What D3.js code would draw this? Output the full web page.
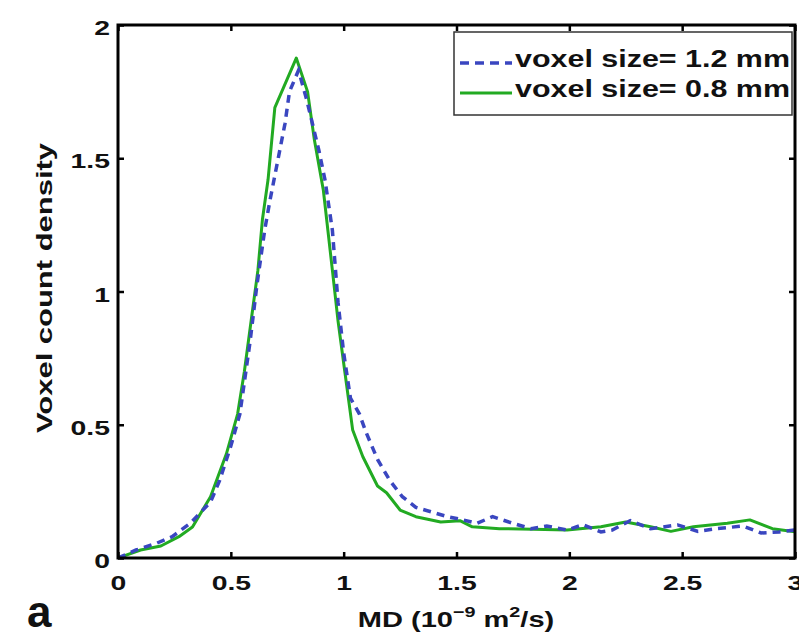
<!DOCTYPE html>
<html>
<head>
<meta charset="utf-8">
<script src="https://cdn.jsdelivr.net/npm/d3@7"></script>
<style>
  html, body { margin: 0; padding: 0; background: #fff; }
  svg { display: block; }
  text { font-family: "Liberation Sans", Arial, Helvetica, sans-serif; }
</style>
</head>
<body>
<svg id="chart" width="799" height="636"></svg>
<script>
// MD values (10^-9 m^2/s) and voxel count density
const mdCoarse = [0, 0.08, 0.17, 0.24, 0.32, 0.41, 0.45, 0.50, 0.54, 0.585, 0.615, 0.65, 0.673, 0.71, 0.74, 0.76, 0.80,
  0.836, 0.89, 0.917, 0.95, 0.975, 1.0, 1.03, 1.07, 1.10, 1.15, 1.205, 1.26, 1.32, 1.40, 1.46, 1.52, 1.59, 1.66,
  1.75, 1.83, 1.90, 1.99, 2.06, 2.14, 2.19, 2.27, 2.36, 2.48, 2.57, 2.65, 2.77, 2.85, 2.93, 3.0];
const densCoarse = [0, 0.03, 0.055, 0.08, 0.13, 0.21, 0.29, 0.42, 0.54, 0.81, 1.02, 1.23, 1.34, 1.50, 1.63, 1.75, 1.83,
  1.72, 1.53, 1.42, 1.23, 0.96, 0.77, 0.60, 0.54, 0.47, 0.37, 0.29, 0.23, 0.19, 0.17, 0.155, 0.145, 0.13, 0.155,
  0.13, 0.11, 0.12, 0.105, 0.125, 0.098, 0.105, 0.14, 0.11, 0.124, 0.10, 0.11, 0.12, 0.094, 0.098, 0.105];

const mdFine = [0, 0.1, 0.19, 0.27, 0.33, 0.41, 0.48, 0.53, 0.56, 0.59, 0.62, 0.64, 0.665, 0.695, 0.79, 0.84, 0.87,
  0.91, 0.95, 0.975, 1.005, 1.04, 1.085, 1.15, 1.19, 1.25, 1.32, 1.43, 1.515, 1.57, 1.69, 1.84, 1.99, 2.14, 2.25,
  2.36, 2.45, 2.55, 2.70, 2.80, 2.90, 3.0];
const densFine = [0, 0.03, 0.045, 0.08, 0.116, 0.23, 0.39, 0.54, 0.70, 0.89, 1.08, 1.27, 1.42, 1.69, 1.876, 1.75, 1.57,
  1.38, 1.08, 0.89, 0.70, 0.48, 0.38, 0.27, 0.245, 0.18, 0.155, 0.135, 0.14, 0.117, 0.11, 0.108, 0.105, 0.117, 0.135,
  0.117, 0.10, 0.117, 0.13, 0.143, 0.11, 0.098];

const xTicks = [0, 0.5, 1, 1.5, 2, 2.5, 3];
const xTickLabels = ["0", "0.5", "1", "1.5", "2", "2.5", "3"];
const yTicks = [0, 0.5, 1, 1.5, 2];
const yTickLabels = ["0", "0.5", "1", "1.5", "2"];
const legendLabels = ["voxel size= 1.2 mm", "voxel size= 0.8 mm"];

const svg = d3.select("#chart");
const plotL = 118, plotR = 795, plotT = 25, plotB = 558;
const stretch = 1.35; // the figure's fonts are much wider than Arial

const x = d3.scaleLinear().domain([0, 3]).range([plotL, plotR]);
const y = d3.scaleLinear().domain([0, 2]).range([plotB, plotT]);

svg.append("rect").attr("width", 799).attr("height", 636).attr("fill", "#fff");

svg.append("clipPath").attr("id", "plotClip")
  .append("rect").attr("x", plotL).attr("y", plotT).attr("width", plotR - plotL).attr("height", plotB - plotT);

const line = d3.line().x(d => x(d[0])).y(d => y(d[1]));

const plot = svg.append("g").attr("clip-path", "url(#plotClip)");

plot.append("path")
  .datum(d3.zip(mdFine, densFine))
  .attr("d", line)
  .attr("fill", "none")
  .attr("stroke", "#22aa22")
  .attr("stroke-width", 3)
  .attr("stroke-linejoin", "round");

plot.append("path")
  .datum(d3.zip(mdCoarse, densCoarse))
  .attr("d", line)
  .attr("fill", "none")
  .attr("stroke", "#3a46c0")
  .attr("stroke-width", 3.5)
  .attr("stroke-dasharray", "8,6");

// axes, ticks pointing inwards like matlab
const xAxis = svg.append("g").attr("transform", `translate(0,${plotB})`)
  .call(d3.axisBottom(x).tickValues(xTicks).tickFormat((d, i) => xTickLabels[i]).tickSize(-6).tickPadding(17));
const yAxis = svg.append("g").attr("transform", `translate(${plotL},0)`)
  .call(d3.axisLeft(y).tickValues(yTicks).tickFormat((d, i) => yTickLabels[i]).tickSize(-6).tickPadding(8));
svg.append("g").attr("transform", `translate(0,${plotT})`)
  .call(d3.axisTop(x).tickValues(xTicks).tickFormat("").tickSize(-6));
svg.append("g").attr("transform", `translate(${plotR},0)`)
  .call(d3.axisRight(y).tickValues(yTicks).tickFormat("").tickSize(-6));

svg.selectAll(".domain").remove();
svg.selectAll(".tick line").attr("stroke", "#000").attr("stroke-width", 2.5);

[xAxis, yAxis].forEach(g => g.selectAll("text")
  .attr("font-size", 21).attr("font-weight", "bold").attr("fill", "#111")
  .attr("font-family", "'Liberation Sans', Arial, sans-serif"));
xAxis.selectAll("text").attr("transform", `scale(${stretch},1)`);
yAxis.selectAll("text").attr("transform", `scale(${stretch},1)`)
  .attr("x", -8 / stretch).attr("y", 3);

svg.append("rect")
  .attr("x", plotL).attr("y", plotT).attr("width", plotR - plotL).attr("height", plotB - plotT)
  .attr("fill", "none").attr("stroke", "#000").attr("stroke-width", 3);

// legend
const lg = svg.append("g");
lg.append("rect").attr("x", 454).attr("y", 32).attr("width", 338).attr("height", 83)
  .attr("fill", "#fff").attr("stroke", "#333").attr("stroke-width", 1.5);
const legendStyles = [
  { color: "#3a46c0", dash: "9,6", width: 3.5 },
  { color: "#22aa22", dash: null, width: 3 }
];
legendLabels.forEach((lab, i) => {
  const yy = 63 + i * 30;
  lg.append("line").attr("x1", 460).attr("x2", 512).attr("y1", yy).attr("y2", yy)
    .attr("stroke", legendStyles[i].color).attr("stroke-width", legendStyles[i].width)
    .attr("stroke-dasharray", legendStyles[i].dash);
  lg.append("text").attr("x", 515).attr("y", yy + 4)
    .attr("font-size", 23).attr("font-weight", "bold").attr("fill", "#111")
    .attr("textLength", 275).attr("lengthAdjust", "spacingAndGlyphs")
    .text(lab);
});

// axis titles
svg.append("text")
  .attr("transform", "translate(52,288) rotate(-90)")
  .attr("text-anchor", "middle")
  .attr("font-size", 22).attr("font-weight", "bold").attr("fill", "#111")
  .attr("textLength", 290).attr("lengthAdjust", "spacingAndGlyphs")
  .text("Voxel count density");

const xt = svg.append("text")
  .attr("transform", `translate(456,627) scale(1.32,1)`)
  .attr("text-anchor", "middle")
  .attr("font-size", 22).attr("font-weight", "bold").attr("fill", "#111");
xt.append("tspan").text("MD (10");
xt.append("tspan").attr("font-size", 15).attr("dy", -10).text("\u22129");
xt.append("tspan").attr("dy", 10).text(" m");
xt.append("tspan").attr("font-size", 15).attr("dy", -10).text("2");
xt.append("tspan").attr("dy", 10).text("/s)");

svg.append("text").attr("x", 27).attr("y", 627)
  .attr("font-size", 44).attr("font-weight", "bold").attr("fill", "#111")
  .text("a");
</script>
</body>
</html>
